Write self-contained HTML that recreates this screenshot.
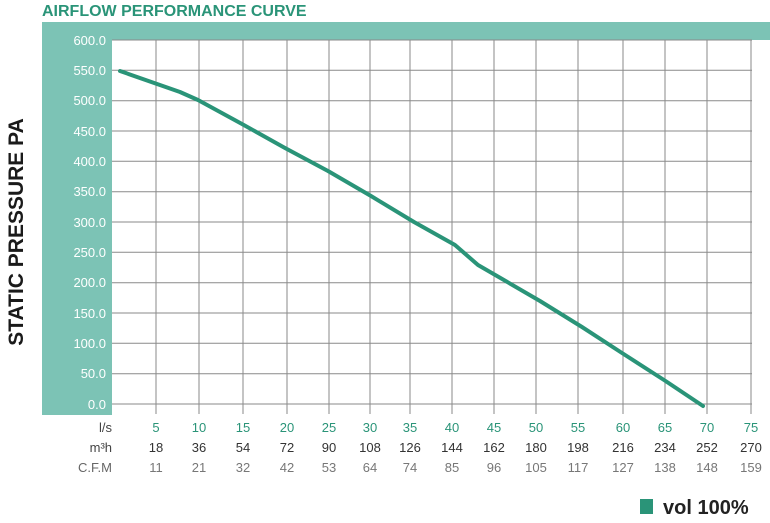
<!DOCTYPE html>
<html><head><meta charset="utf-8"><style>
html,body{margin:0;padding:0;background:#fff;width:770px;height:523px;overflow:hidden}
svg{display:block;font-family:"Liberation Sans",sans-serif}
</style></head><body>
<svg width="770" height="523" xmlns="http://www.w3.org/2000/svg">
<text x="42" y="16" font-size="16" font-weight="bold" fill="#2a9478">AIRFLOW PERFORMANCE CURVE</text>
<rect x="42" y="22" width="728" height="18" fill="#7cc3b5"/>
<rect x="42" y="22" width="70" height="393" fill="#7cc3b5"/>
<g stroke="#8a8a8a" stroke-width="1">
<line x1="112" y1="40" x2="752" y2="40"/><line x1="112" y1="70.3" x2="752" y2="70.3"/><line x1="112" y1="100.7" x2="752" y2="100.7"/><line x1="112" y1="131" x2="752" y2="131"/><line x1="112" y1="161.3" x2="752" y2="161.3"/><line x1="112" y1="191.7" x2="752" y2="191.7"/><line x1="112" y1="222" x2="752" y2="222"/><line x1="112" y1="252.3" x2="752" y2="252.3"/><line x1="112" y1="282.7" x2="752" y2="282.7"/><line x1="112" y1="313" x2="752" y2="313"/><line x1="112" y1="343.3" x2="752" y2="343.3"/><line x1="112" y1="373.7" x2="752" y2="373.7"/><line x1="112" y1="404" x2="752" y2="404"/>
<line x1="156" y1="40" x2="156" y2="414"/><line x1="199" y1="40" x2="199" y2="414"/><line x1="243" y1="40" x2="243" y2="414"/><line x1="287" y1="40" x2="287" y2="414"/><line x1="329" y1="40" x2="329" y2="414"/><line x1="370" y1="40" x2="370" y2="414"/><line x1="410" y1="40" x2="410" y2="414"/><line x1="452" y1="40" x2="452" y2="414"/><line x1="494" y1="40" x2="494" y2="414"/><line x1="536" y1="40" x2="536" y2="414"/><line x1="578" y1="40" x2="578" y2="414"/><line x1="623" y1="40" x2="623" y2="414"/><line x1="665" y1="40" x2="665" y2="414"/><line x1="707" y1="40" x2="707" y2="414"/><line x1="751" y1="40" x2="751" y2="414"/>
</g>
<g font-size="13" fill="#fff" text-anchor="end">
<text x="106" y="45">600.0</text><text x="106" y="75">550.0</text><text x="106" y="105">500.0</text><text x="106" y="136">450.0</text><text x="106" y="166">400.0</text><text x="106" y="196">350.0</text><text x="106" y="227">300.0</text><text x="106" y="257">250.0</text><text x="106" y="287">200.0</text><text x="106" y="318">150.0</text><text x="106" y="348">100.0</text><text x="106" y="378">50.0</text><text x="106" y="409">0.0</text>
</g>
<polyline fill="none" stroke="#2a9478" stroke-width="4" stroke-linecap="round" stroke-linejoin="round" points="120,71 180,92 198,100 242,124 285,148 328,171 371,196 414,222 455,245 478,265 497,276 540,301 582,327 622,353 664,380 703,406"/>
<text transform="translate(23,232) rotate(-90)" font-size="21" font-weight="bold" fill="#1a1a1a" text-anchor="middle">STATIC PRESSURE PA</text>
<g font-size="13" text-anchor="end" fill="#444">
<text x="112" y="432">l/s</text><text x="112" y="452">m³h</text><text x="112" y="472" fill="#666">C.F.M</text>
</g>
<g font-size="13" text-anchor="middle" fill="#2a9478">
<text x="156" y="432">5</text><text x="199" y="432">10</text><text x="243" y="432">15</text><text x="287" y="432">20</text><text x="329" y="432">25</text><text x="370" y="432">30</text><text x="410" y="432">35</text><text x="452" y="432">40</text><text x="494" y="432">45</text><text x="536" y="432">50</text><text x="578" y="432">55</text><text x="623" y="432">60</text><text x="665" y="432">65</text><text x="707" y="432">70</text><text x="751" y="432">75</text>
</g>
<g font-size="13" text-anchor="middle" fill="#333">
<text x="156" y="452">18</text><text x="199" y="452">36</text><text x="243" y="452">54</text><text x="287" y="452">72</text><text x="329" y="452">90</text><text x="370" y="452">108</text><text x="410" y="452">126</text><text x="452" y="452">144</text><text x="494" y="452">162</text><text x="536" y="452">180</text><text x="578" y="452">198</text><text x="623" y="452">216</text><text x="665" y="452">234</text><text x="707" y="452">252</text><text x="751" y="452">270</text>
</g>
<g font-size="13" text-anchor="middle" fill="#777">
<text x="156" y="472">11</text><text x="199" y="472">21</text><text x="243" y="472">32</text><text x="287" y="472">42</text><text x="329" y="472">53</text><text x="370" y="472">64</text><text x="410" y="472">74</text><text x="452" y="472">85</text><text x="494" y="472">96</text><text x="536" y="472">105</text><text x="578" y="472">117</text><text x="623" y="472">127</text><text x="665" y="472">138</text><text x="707" y="472">148</text><text x="751" y="472">159</text>
</g>
<rect x="640" y="499" width="13" height="15" fill="#2a9478"/>
<text x="663" y="514" font-size="20" font-weight="bold" fill="#222">vol 100%</text>
</svg>
</body></html>
